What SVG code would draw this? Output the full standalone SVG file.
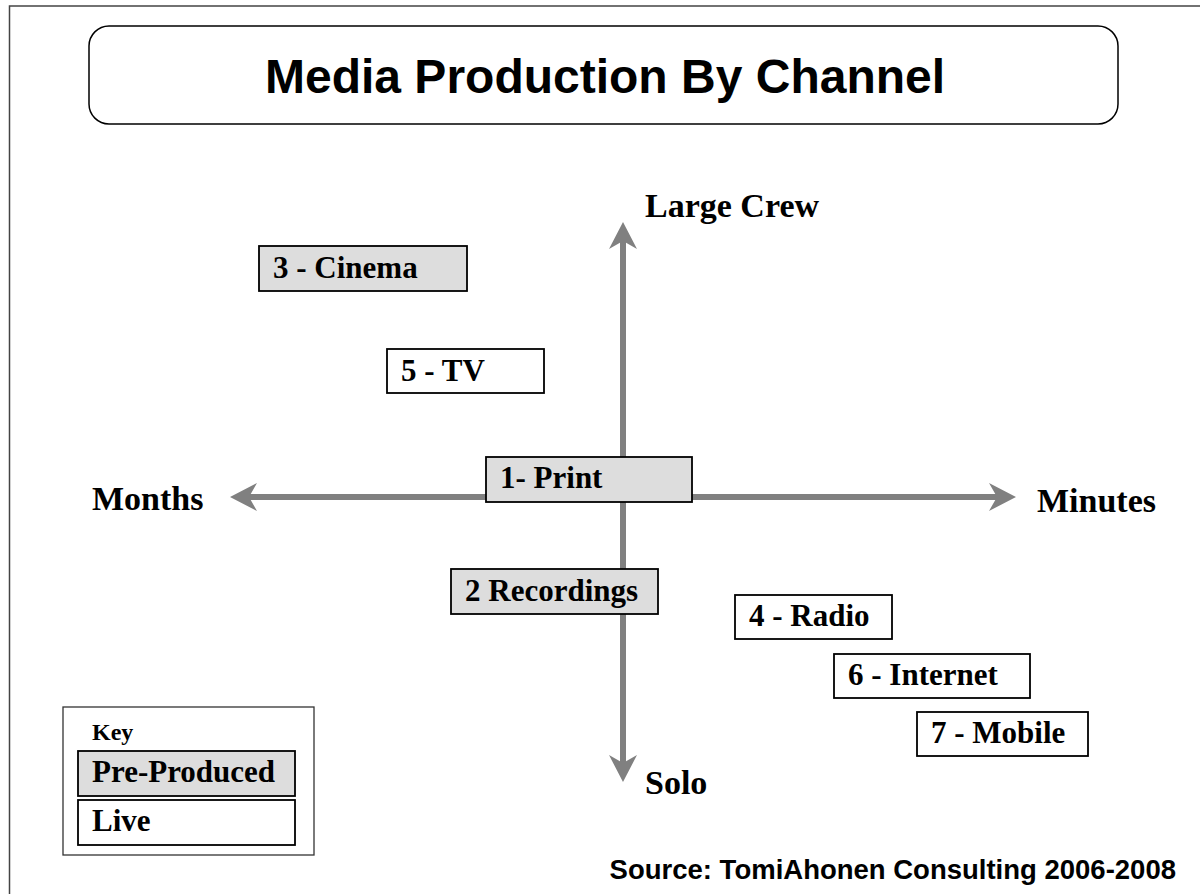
<svg xmlns="http://www.w3.org/2000/svg" width="1200" height="894" viewBox="0 0 1200 894">
<style>
.frame{fill:none;stroke:#444;stroke-width:1.5}
.title{font-family:"Liberation Sans",Arial,sans-serif;font-weight:bold;font-size:48px;fill:#000}
.src{font-family:"Liberation Sans",Arial,sans-serif;font-weight:bold;font-size:27.5px;fill:#000}
.lbl{font-family:"Liberation Serif","Times New Roman",serif;font-weight:bold;font-size:31px;fill:#000}
.axis{font-family:"Liberation Serif","Times New Roman",serif;font-weight:bold;font-size:34px;fill:#000}
.key{font-family:"Liberation Serif","Times New Roman",serif;font-weight:bold;font-size:24px;fill:#000}
.pre{fill:#dddddd;stroke:#000;stroke-width:1.8}
.live{fill:#fff;stroke:#000;stroke-width:1.8}
.axline{stroke:#808080;stroke-width:6;fill:none}
.head{fill:#808080}
</style>
<defs>
<marker id="arr" markerUnits="userSpaceOnUse" markerWidth="30" markerHeight="30" refX="0" refY="0" orient="auto-start-reverse" overflow="visible">
<path class="head" d="M19,0 L-8,-14 L0,0 L-8,14 Z"/>
</marker>
</defs>
<rect width="1200" height="894" fill="#fff"/>
<rect class="frame" x="9.5" y="6" width="1400" height="1000"/>
<g id="title">
<rect x="89" y="26" width="1029" height="98" rx="20" ry="20" fill="#fff" stroke="#000" stroke-width="1.5"/>
<text class="title" x="265" y="93">Media Production By Channel</text>
</g>
<g id="connectors">
<line class="axline" x1="623" y1="241" x2="623" y2="763" marker-start="url(#arr)" marker-end="url(#arr)"/>
<line class="axline" x1="249" y1="497" x2="997" y2="497" marker-start="url(#arr)" marker-end="url(#arr)"/>
</g>
<g id="axis-labels">
<text class="axis" x="645" y="217">Large Crew</text>
<text class="axis" x="92" y="510">Months</text>
<text class="axis" x="1037" y="512">Minutes</text>
<text class="axis" x="645" y="794">Solo</text>
</g>
<g id="n3">
<rect class="pre" x="259" y="246" width="208" height="45"/>
<text class="lbl" x="273" y="278">3 - Cinema</text>
</g>
<g id="n5">
<rect class="live" x="387" y="349" width="157" height="44"/>
<text class="lbl" x="401" y="381">5 - TV</text>
</g>
<g id="n1">
<rect class="pre" x="486" y="457" width="206" height="45"/>
<text class="lbl" x="500" y="488">1- Print</text>
</g>
<g id="n2">
<rect class="pre" x="451" y="569" width="207" height="45"/>
<text class="lbl" x="465" y="601">2 Recordings</text>
</g>
<g id="n4">
<rect class="live" x="735" y="595" width="157" height="44"/>
<text class="lbl" x="749" y="626">4 - Radio</text>
</g>
<g id="n6">
<rect class="live" x="834" y="654" width="196" height="44"/>
<text class="lbl" x="848" y="685">6 - Internet</text>
</g>
<g id="n7">
<rect class="live" x="917" y="712" width="171" height="44"/>
<text class="lbl" x="931" y="743">7 - Mobile</text>
</g>
<g id="key">
<rect x="63" y="707" width="251" height="148" fill="#fff" stroke="#333" stroke-width="1.3"/>
<text class="key" x="92" y="740">Key</text>
<rect class="pre" x="78" y="751" width="217" height="45"/>
<text class="lbl" x="92" y="782">Pre-Produced</text>
<rect class="live" x="78" y="800" width="217" height="45"/>
<text class="lbl" x="92" y="831">Live</text>
</g>
<g id="source">
<text class="src" x="1176" y="879" text-anchor="end">Source: TomiAhonen Consulting 2006-2008</text>
</g>
</svg>
